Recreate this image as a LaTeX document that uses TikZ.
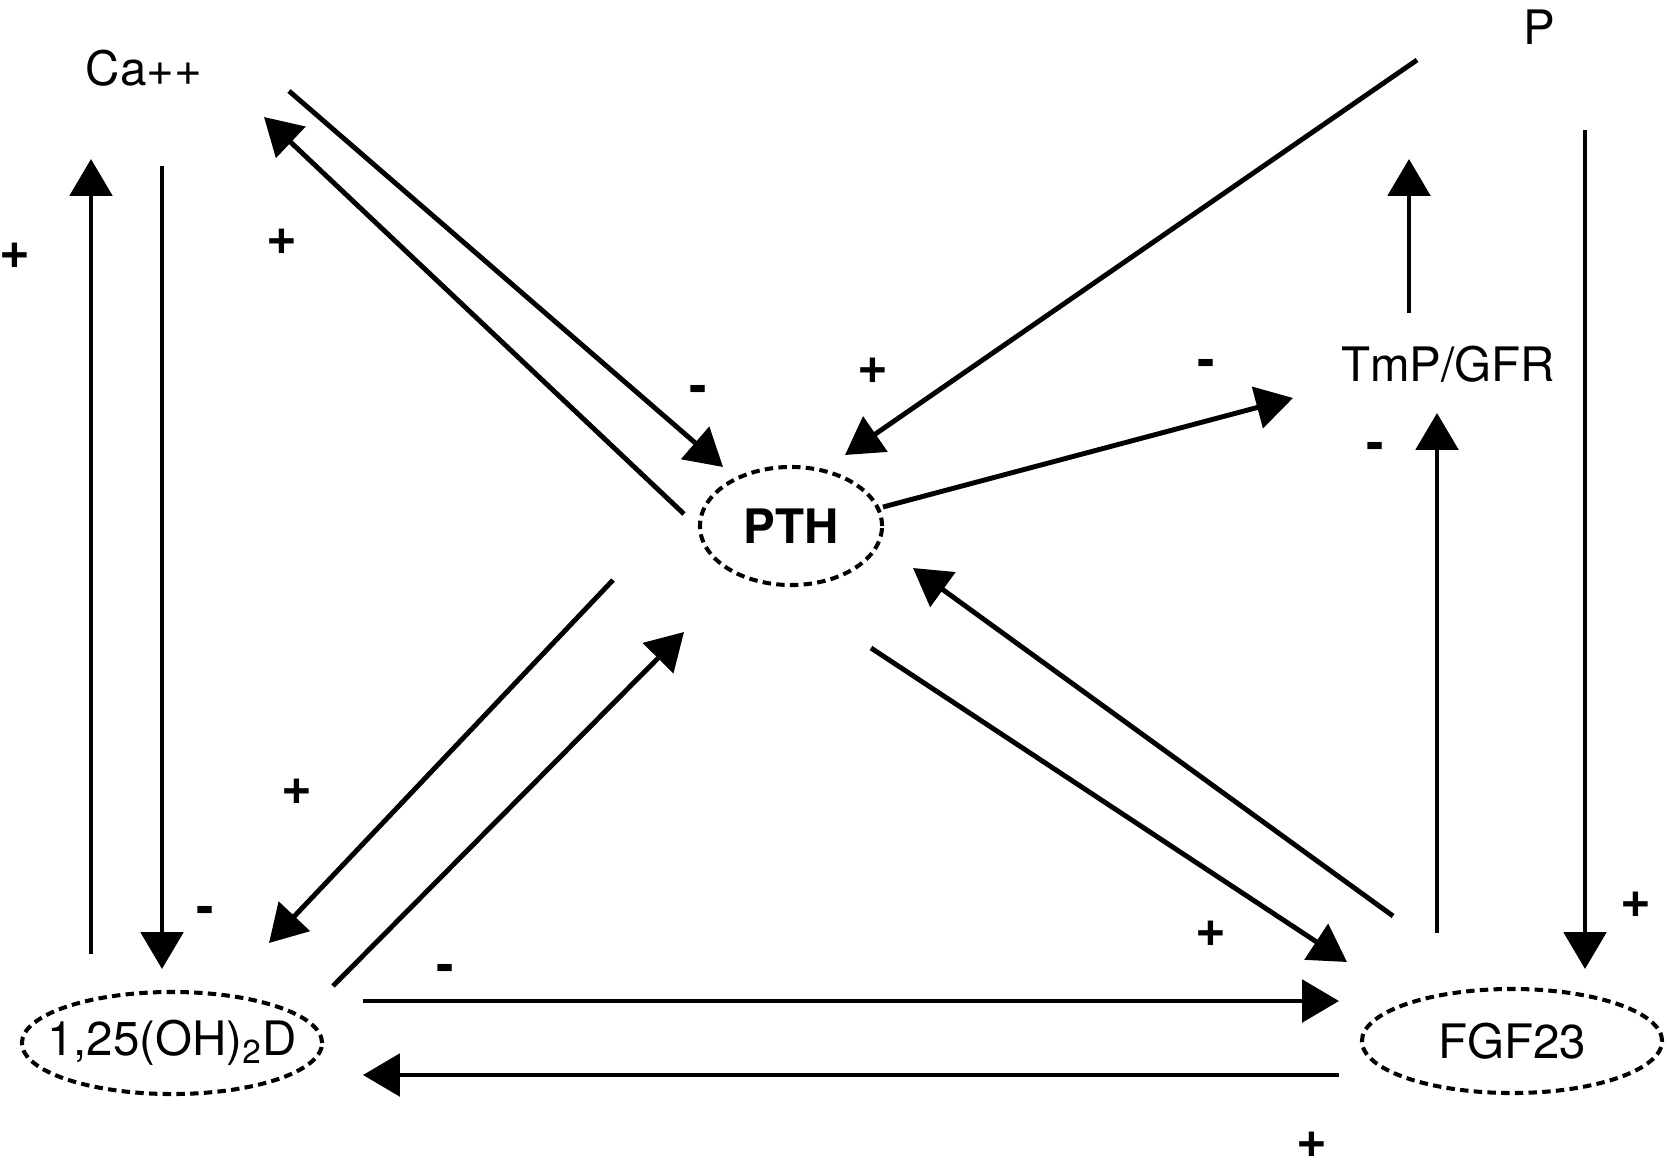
\documentclass[tikz,border=0pt]{standalone}
\usepackage{fontspec}
\setmainfont{TeX Gyre Heros}
\usetikzlibrary{arrows.meta,shapes.geometric}

\begin{document}
\begin{tikzpicture}[x=0.01cm, y=-0.01cm,
  font=\fontsize{13.5}{16}\selectfont,
  oval/.style={draw, ellipse, dash pattern=on 2.4pt off 1.5pt,
               line width=1.15pt, inner sep=0pt, minimum width=#1},
  sign/.style={font=\fontsize{15}{17}\selectfont\bfseries, inner sep=0pt},
  flow/.style={-{Triangle[length=10.5pt,width=12pt]}, line width=1.4pt}
]
  \useasboundingbox (0,0) rectangle (1667,1167);
  % substances and hormones
  \node (ca)  at (144,68)   {Ca++};
  \node (p)   at (1539,27)  {P};
  \node (tmp) at (1448,364) {TmP/GFR};
  \node[oval=1.82cm, minimum height=1.18cm,
        font=\fontsize{13.5}{16}\selectfont\bfseries] (pth) at (791,526) {PTH};
  \node[oval=3cm, minimum height=1.02cm] (vitd) at (172,1043)
        {\makebox[0pt]{1,25(OH)\textsubscript{2}D}};
  \node[oval=3cm, minimum height=1.04cm] (fgf) at (1512,1041) {FGF23};
  % arrow ends
  \coordinate (vitd-ca)  at (91,954);   \coordinate (ca-up)   at (91,159);
  \coordinate (ca-down)  at (162,166);  \coordinate (vitd-in) at (162,969);
  \coordinate (ca-pth)   at (289,91);   \coordinate (pth-ca)  at (723,467);
  \coordinate (pth-out)  at (684,514);  \coordinate (ca-in)   at (264,117);
  \coordinate (p-pth)    at (1417,60);  \coordinate (pth-p)   at (845,455);
  \coordinate (pth-tmp)  at (883,507);  \coordinate (tmp-in)  at (1293,398);
  \coordinate (tmp-up)   at (1409,313); \coordinate (tmp-top) at (1409,159);
  \coordinate (fgf-tmp)  at (1437,933); \coordinate (tmp-bot) at (1437,413);
  \coordinate (p-down)   at (1585,130); \coordinate (fgf-in)  at (1585,969);
  \coordinate (pth-vitd) at (613,580);  \coordinate (vitd-tip) at (269,943);
  \coordinate (vitd-pth) at (333,986);  \coordinate (pth-tip) at (684,632);
  \coordinate (pth-fgf)  at (871,648);  \coordinate (fgf-tip) at (1347,962);
  \coordinate (fgf-pth)  at (1393,916); \coordinate (pth-r)   at (913,568);
  \coordinate (vitd-fgf) at (363,1001); \coordinate (fgf-l)   at (1339,1001);
  \coordinate (fgf-vitd) at (1339,1075);\coordinate (vitd-r)  at (363,1075);
  % arrows
  \draw[flow] (vitd-ca) -- (ca-up);
  \draw[flow] (ca-down) -- (vitd-in);
  \draw[flow] (ca-pth) -- (pth-ca);
  \draw[flow] (pth-out) -- (ca-in);
  \draw[flow] (p-pth) -- (pth-p);
  \draw[flow] (pth-tmp) -- (tmp-in);
  \draw[flow] (tmp-up) -- (tmp-top);
  \draw[flow] (fgf-tmp) -- (tmp-bot);
  \draw[flow] (p-down) -- (fgf-in);
  \draw[flow] (pth-vitd) -- (vitd-tip);
  \draw[flow] (vitd-pth) -- (pth-tip);
  \draw[flow] (pth-fgf) -- (fgf-tip);
  \draw[flow] (fgf-pth) -- (pth-r);
  \draw[flow] (vitd-fgf) -- (fgf-l);
  \draw[flow] (fgf-vitd) -- (vitd-r);
  % signs
  \node[sign] (s1)  at (15,256)    {+};
  \node[sign] (s2)  at (282,242)   {+};
  \node[sign] (s3)  at (698,394)   {-};
  \node[sign] (s4)  at (873,371)   {+};
  \node[sign] (s5)  at (1206,368)  {-};
  \node[sign] (s6)  at (1375,451)  {-};
  \node[sign] (s7)  at (297,792)   {+};
  \node[sign] (s8)  at (205,915)   {-};
  \node[sign] (s9)  at (445,973)   {-};
  \node[sign] (s10) at (1211,934)  {+};
  \node[sign] (s11) at (1636,905)  {+};
  \node[sign] (s12) at (1312,1145) {+};
\end{tikzpicture}
\end{document}
